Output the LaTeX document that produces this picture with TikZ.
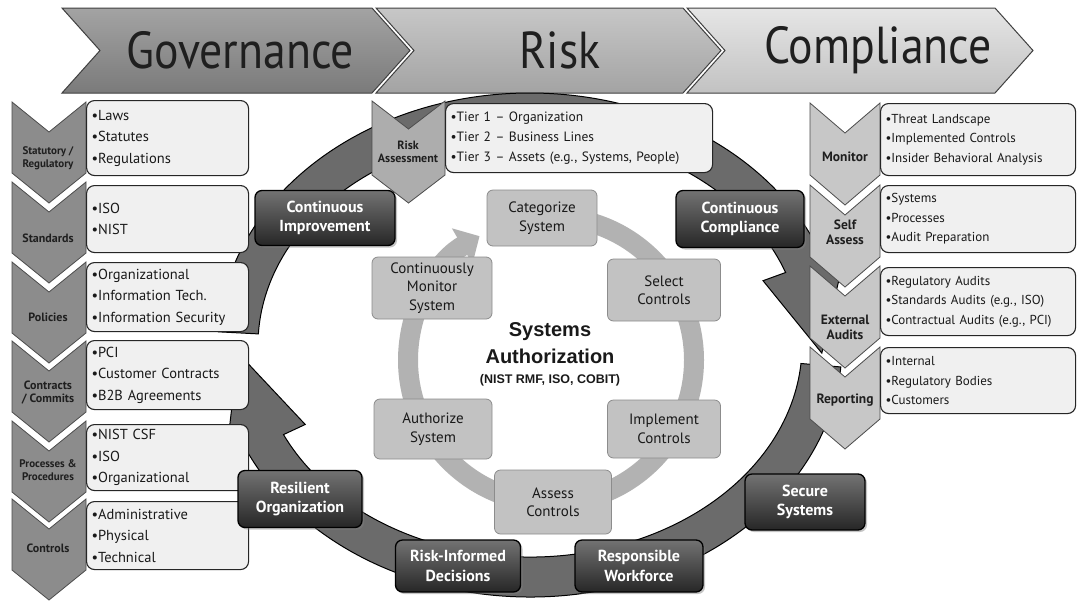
\documentclass[tikz,border=0pt]{standalone}
\usepackage{fontspec}
\setmainfont{PT Sans}
\newfontfamily\titlefont{PT Sans}[FakeStretch=0.88]
\newfontfamily\arialfont{Liberation Sans}
\usetikzlibrary{arrows.meta,shadows}
\def\chevd{30}
% vertical chevron: style, left x, right x, top y, side height
\newcommand\vchevron[5]{%
  \path[#1] (#2,#4) -- ({(#2+#3)/2},{#4+\chevd}) -- (#3,#4) -- (#3,{#4+#5})
    -- ({(#2+#3)/2},{#4+#5+\chevd}) -- (#2,{#4+#5}) -- cycle;}
% horizontal banner chevron: style, left x, right x
\newcommand\hchevron[3]{%
  \path[#1] (#2,8) -- (#3,8) -- ({#3+38},50.5) -- (#3,93) -- (#2,93) -- ({#2+38},50.5) -- cycle;}
\begin{document}
\begin{tikzpicture}[x=1pt,y=-1pt,
  banner/.style={draw=black!75,line width=1pt},
  titletext/.style={font=\titlefont\fontsize{52}{56}\selectfont,text=black!88,inner sep=0},
  govchev/.style={draw=black!70,line width=0.8pt,fill=black!45},
  riskchev/.style={draw=black!70,line width=0.8pt,fill=black!32},
  compchev/.style={draw=black!70,line width=0.8pt,fill=black!22},
  chevlabel/.style={font=\bfseries\fontsize{12}{13}\selectfont,align=center,text=black!88,inner sep=0},
  listbox/.style={draw=black!85,line width=1.1pt,rounded corners=8pt,fill=black!6,anchor=north west,
    align=left,inner xsep=5pt,inner ysep=0pt,text=black!90},
  leftlist/.style={listbox,font=\fontsize{14.5}{21.5}\selectfont,text width=152pt},
  rightlist/.style={listbox,font=\fontsize{13}{19.5}\selectfont,text width=185pt},
  risklist/.style={listbox,font=\fontsize{13.5}{20}\selectfont,text width=257pt},
  ringarrow/.style={fill=black!58,draw=black,line width=1pt},
  innerring/.style={draw=black!30,line width=20pt},
  darkbox/.style={draw=black,line width=1.3pt,rounded corners=7pt,top color=black!55,bottom color=black!85,
    text=white,font=\bfseries\fontsize{16}{19.5}\selectfont,align=center,inner sep=2pt,
    drop shadow={shadow xshift=2pt,shadow yshift=-2pt,opacity=.45}},
  sabox/.style={draw=black!45,line width=0.8pt,rounded corners=6pt,fill=black!24,text=black!90,
    font=\fontsize{15}{18.5}\selectfont,align=center,inner sep=2pt}
]
\useasboundingbox[fill=white] (0,0) rectangle (1081,606);

% ---------- banner ----------
\hchevron{banner,top color=black!36,bottom color=black!52}{62}{372}
\hchevron{banner,top color=black!22,bottom color=black!36}{376}{683}
\hchevron{banner,top color=black!10,bottom color=black!24}{687}{995}
\node[titletext] (tgov) at (240,50) {Governance};
\node[titletext] (trisk) at (560,50) {Risk};
\node[titletext] (tcomp) at (878,50) {Compliance};

% ---------- big ring (two arrows) ----------
\begin{scope}[shift={(530,345)}]
  \path[ringarrow] (5:312 and 252) arc[start angle=5,end angle=155,x radius=312,y radius=252]
    -- (155:336 and 276) -- (178:292 and 232) -- (155:248 and 188) -- (155:272 and 212)
    arc[start angle=155,end angle=5,x radius=272,y radius=212] -- cycle;
  \path[ringarrow] (183:312 and 252) arc[start angle=183,end angle=340,x radius=312,y radius=252]
    -- (340:336 and 276) -- (362:292 and 232) -- (340:248 and 188) -- (340:272 and 212)
    arc[start angle=340,end angle=183,x radius=272,y radius=212] -- cycle;
\end{scope}

% ---------- inner cycle ring ----------
\begin{scope}[shift={(551,360)}]
  \draw[innerring,-{Triangle[length=20pt,width=40pt]}] (270:143) arc[start angle=270,end angle=600,radius=143];
\end{scope}

% ---------- Governance column ----------
\vchevron{govchev}{12}{86}{102}{71}
\vchevron{govchev}{12}{86}{182}{71}
\vchevron{govchev}{12}{86}{262}{71}
\vchevron{govchev}{12}{86}{341}{71}
\vchevron{govchev}{12}{86}{421}{71}
\vchevron{govchev}{12}{86}{499}{71}
\node[chevlabel,font=\bfseries\fontsize{11}{12.5}\selectfont] (lg1) at (48,158) {Statutory /\\Regulatory};
\node[chevlabel] (lg2) at (48,238) {Standards};
\node[chevlabel] (lg3) at (48,317) {Policies};
\node[chevlabel] (lg4) at (48,393) {Contracts\\/ Commits};
\node[chevlabel,font=\bfseries\fontsize{11}{12.5}\selectfont] (lg5) at (48,470) {Processes \&\\Procedures};
\node[chevlabel] (lg6) at (48,548) {Controls};

\node[leftlist,minimum height=75pt] (gb1) at (86,100) {•Laws\\•Statutes\\•Regulations};
\node[leftlist,minimum height=67pt] (gb2) at (86,185) {•ISO\\•NIST};
\node[leftlist,minimum height=69pt] (gb3) at (86,262) {•Organizational\\•Information Tech.\\•Information Security};
\node[leftlist,minimum height=69pt] (gb4) at (86,340) {•PCI\\•Customer Contracts\\•B2B Agreements};
\node[leftlist,minimum height=66pt] (gb5) at (86,424) {•NIST CSF\\•ISO\\•Organizational};
\node[leftlist,minimum height=68pt] (gb6) at (86,501) {•Administrative\\•Physical\\•Technical};

% ---------- Risk assessment ----------
\def\chevd{28}
\vchevron{riskchev}{372}{445}{101}{74}
\node[chevlabel,font=\bfseries\fontsize{12}{13.5}\selectfont] (lra) at (408,152) {Risk\\Assessment};
\node[risklist,minimum height=69pt] (rb) at (445,103)
  {•Tier 1 – Organization\\•Tier 2 – Business Lines\\•Tier 3 – Assets (e.g., Systems, People)};

% ---------- Compliance column ----------
\def\chevd{30}
\vchevron{compchev}{810}{880}{103}{72}
\vchevron{compchev}{810}{880}{185}{72}
\vchevron{compchev}{810}{880}{266}{72}
\vchevron{compchev}{810}{880}{347}{72}
\node[chevlabel,font=\bfseries\fontsize{13.5}{15}\selectfont] (lc1) at (845,157) {Monitor};
\node[chevlabel,font=\bfseries\fontsize{13.5}{15}\selectfont] (lc2) at (845,232) {Self\\Assess};
\node[chevlabel,font=\bfseries\fontsize{13.5}{15}\selectfont] (lc3) at (845,327) {External\\Audits};
\node[chevlabel,font=\bfseries\fontsize{13.5}{15}\selectfont] (lc4) at (845,400) {Reporting};

\node[rightlist,minimum height=72pt] (cb1) at (880,103) {•Threat Landscape\\•Implemented Controls\\•Insider Behavioral Analysis};
\node[rightlist,minimum height=67pt] (cb2) at (880,185) {•Systems\\•Processes\\•Audit Preparation};
\node[rightlist,minimum height=68pt] (cb3) at (880,267) {•Regulatory Audits\\•Standards Audits (e.g., ISO)\\•Contractual Audits (e.g., PCI)};
\node[rightlist,minimum height=66pt] (cb4) at (880,347) {•Internal\\•Regulatory Bodies\\•Customers};

% ---------- outcome boxes on ring ----------
\node[darkbox,minimum width=140pt,minimum height=55pt] (ci) at (325,218) {Continuous\\Improvement};
\node[darkbox,minimum width=128pt,minimum height=57pt] (cc) at (740,219) {Continuous\\Compliance};
\node[darkbox,minimum width=124pt,minimum height=57pt] (ro) at (300,499) {Resilient\\Organization};
\node[darkbox,minimum width=125pt,minimum height=52pt] (rid) at (458,566) {Risk-Informed\\Decisions};
\node[darkbox,minimum width=128pt,minimum height=52pt] (rw) at (639,566) {Responsible\\Workforce};
\node[darkbox,minimum width=120pt,minimum height=56pt] (ss) at (805,502) {Secure\\Systems};

% ---------- systems authorization cycle ----------
\node[sabox,minimum width=110pt,minimum height=56pt] (cat) at (542,218) {Categorize\\System};
\node[sabox,minimum width=113pt,minimum height=62pt] (sel) at (664,290) {Select\\Controls};
\node[sabox,minimum width=113pt,minimum height=58pt] (imp) at (664,429) {Implement\\Controls};
\node[sabox,minimum width=117pt,minimum height=64pt] (ass) at (553,502) {Assess\\Controls};
\node[sabox,minimum width=118pt,minimum height=60pt] (aut) at (433,429) {Authorize\\System};
\node[sabox,minimum width=120pt,minimum height=62pt] (mon) at (432,288) {Continuously\\Monitor\\System};

\node[font=\arialfont\bfseries\fontsize{20}{27}\selectfont,align=center,text=black!90,inner sep=0] (satitle) at (550,343) {Systems\\Authorization};
\node[font=\arialfont\bfseries\fontsize{12.5}{14}\selectfont,text=black!90,inner sep=0] (sasub) at (550,380) {(NIST RMF, ISO, COBIT)};
\end{tikzpicture}
\end{document}
